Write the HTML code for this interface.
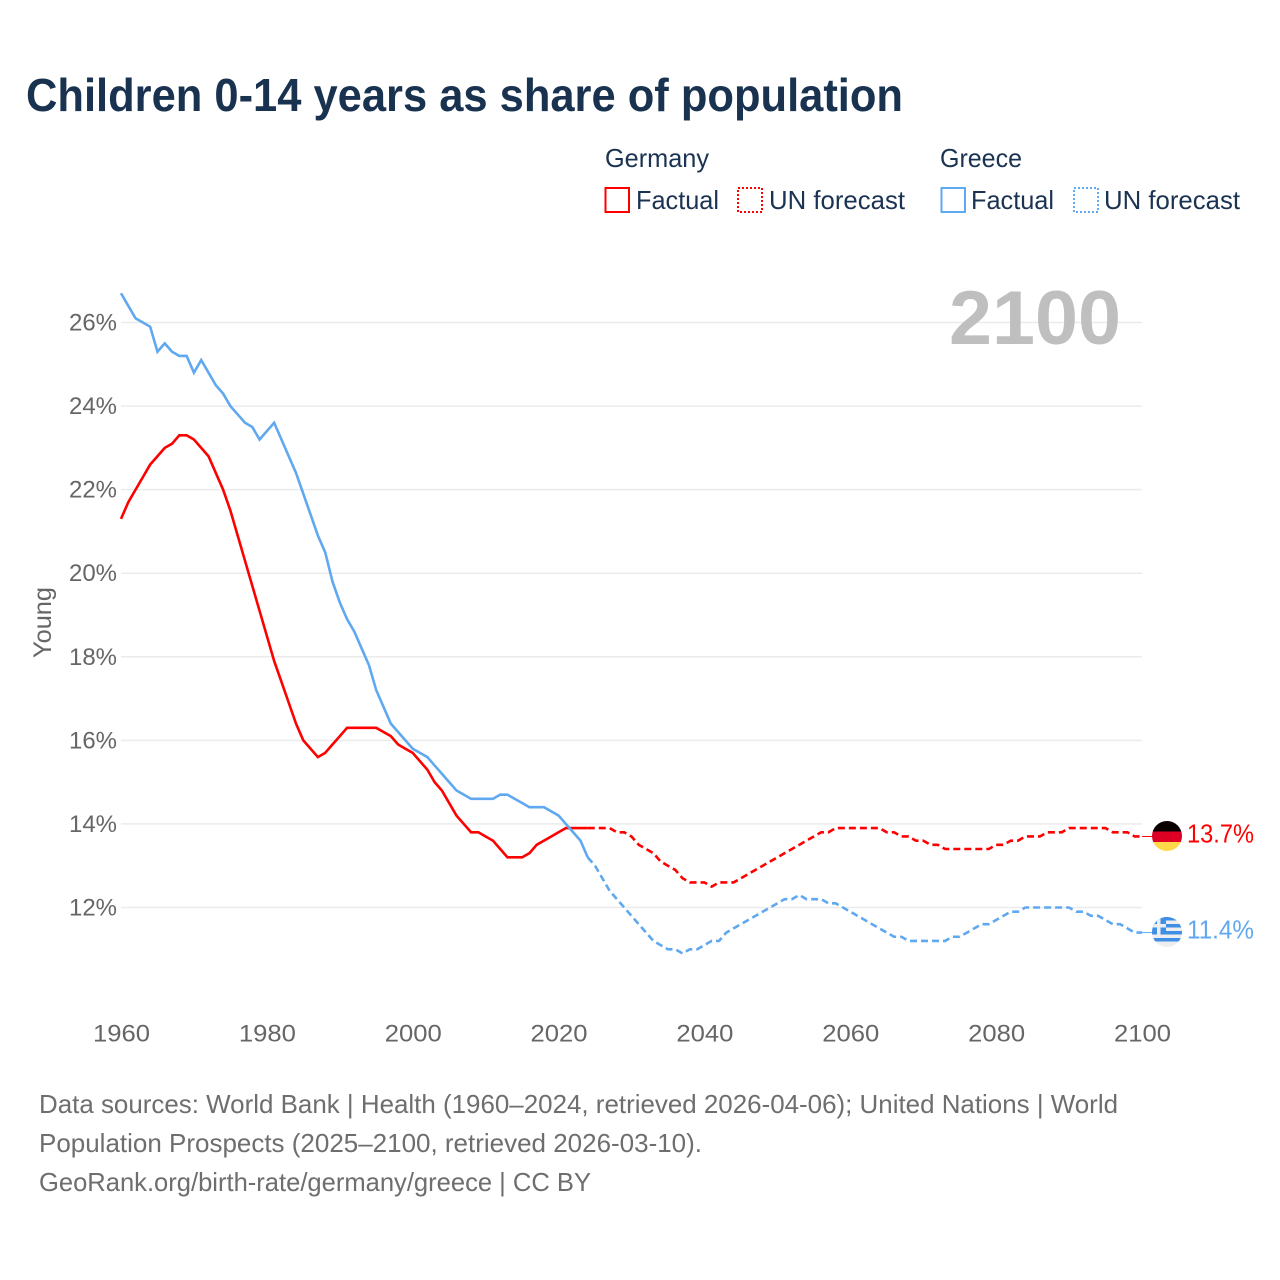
<!DOCTYPE html>
<html lang="en">
<head>
<meta charset="utf-8">
<title>Children 0-14 years as share of population</title>
<style>
html,body{margin:0;padding:0;background:#fff;width:1280px;height:1280px;overflow:hidden}
svg{display:block;font-family:"Liberation Sans",sans-serif}
</style>
</head>
<body>
<svg id="chart" width="1280" height="1280" viewBox="0 0 1280 1280" xmlns="http://www.w3.org/2000/svg">
  <defs>
    <clipPath id="flag-clip-de"><circle cx="1167" cy="836" r="15"/></clipPath>
    <clipPath id="flag-clip-gr"><circle cx="1167" cy="932" r="15"/></clipPath>
  </defs>
  <rect width="1280" height="1280" fill="#fff"/>
  <text x="26" y="111" font-size="46" font-weight="700" fill="#18324f" textLength="877" lengthAdjust="spacingAndGlyphs">Children 0-14 years as share of population</text>

  <g font-size="26" fill="#1b3352">
    <text x="605" y="167" textLength="104" lengthAdjust="spacingAndGlyphs">Germany</text>
    <text x="940" y="167" textLength="82" lengthAdjust="spacingAndGlyphs">Greece</text>
    <rect x="605.5" y="188" width="23.5" height="24" fill="none" stroke="#ff0000" stroke-width="2"/>
    <text x="636" y="209" textLength="83" lengthAdjust="spacingAndGlyphs">Factual</text>
    <rect x="738" y="188" width="24" height="24" fill="none" stroke="#ff0000" stroke-width="2" stroke-dasharray="2 2"/>
    <text x="769" y="209" textLength="136" lengthAdjust="spacingAndGlyphs">UN forecast</text>
    <rect x="941.5" y="188" width="23.5" height="24" fill="none" stroke="#60a8ef" stroke-width="2"/>
    <text x="971" y="209" textLength="83" lengthAdjust="spacingAndGlyphs">Factual</text>
    <rect x="1074" y="188" width="24" height="24" fill="none" stroke="#60a8ef" stroke-width="2" stroke-dasharray="2 2"/>
    <text x="1104" y="209" textLength="136" lengthAdjust="spacingAndGlyphs">UN forecast</text>
  </g>

  <g id="grid"></g>
  <g id="yticks" font-size="24" fill="#666"></g>
  <g id="xticks" font-size="24" fill="#666"></g>
  <text transform="translate(51,658) rotate(-90)" font-size="25" fill="#666" textLength="71" lengthAdjust="spacingAndGlyphs">Young</text>
  <text x="949" y="344" font-size="76" font-weight="700" fill="#bfbfbf" textLength="172" lengthAdjust="spacingAndGlyphs">2100</text>
  <g id="series"></g>

  <g clip-path="url(#flag-clip-de)">
    <rect x="1150" y="820" width="34" height="11.5" fill="#0b0000"/>
    <rect x="1150" y="831.5" width="34" height="10.5" fill="#dc0024"/>
    <rect x="1150" y="842" width="34" height="11" fill="#ffd84a"/>
  </g>
  <g clip-path="url(#flag-clip-gr)">
    <rect x="1150" y="916" width="34" height="32" fill="#eeeeee"/>
    <rect x="1150" y="917" width="34" height="3.5" fill="#3f8fe6"/>
    <rect x="1150" y="924" width="34" height="3.5" fill="#3f8fe6"/>
    <rect x="1150" y="931" width="34" height="3.5" fill="#3f8fe6"/>
    <rect x="1150" y="938" width="34" height="3.5" fill="#3f8fe6"/>
    <rect x="1150" y="917" width="16" height="17.5" fill="#3f8fe6"/>
    <rect x="1150" y="924" width="16" height="3.5" fill="#eeeeee"/>
    <rect x="1157" y="917" width="3.5" height="17.5" fill="#eeeeee"/>
  </g>
  <text x="1187" y="842.5" font-size="26" fill="#ff0000" textLength="67" lengthAdjust="spacingAndGlyphs">13.7%</text>
  <text x="1187" y="938.5" font-size="26" fill="#60a8ef" textLength="67" lengthAdjust="spacingAndGlyphs">11.4%</text>

  <g font-size="26" fill="#6e6e6e">
    <text x="39" y="1113" textLength="1079" lengthAdjust="spacingAndGlyphs">Data sources: World Bank | Health (1960–2024, retrieved 2026-04-06); United Nations | World</text>
    <text x="39" y="1152" textLength="663" lengthAdjust="spacingAndGlyphs">Population Prospects (2025–2100, retrieved 2026-03-10).</text>
    <text x="39" y="1191" textLength="552" lengthAdjust="spacingAndGlyphs">GeoRank.org/birth-rate/germany/greece | CC BY</text>
  </g>
</svg>
<script>
const yTickValues = [12, 14, 16, 18, 20, 22, 24, 26];
const xTickValues = [1960, 1980, 2000, 2020, 2040, 2060, 2080, 2100];
const factualStartYear = 1960;
const forecastStartYear = 2024;
const germanyFactual = [21.3,21.7,22.0,22.3,22.6,22.8,23.0,23.1,23.3,23.3,23.2,23.0,22.8,22.4,22.0,21.5,20.9,20.3,19.7,19.1,18.5,17.9,17.4,16.9,16.4,16.0,15.8,15.6,15.7,15.9,16.1,16.3,16.3,16.3,16.3,16.3,16.2,16.1,15.9,15.8,15.7,15.5,15.3,15.0,14.8,14.5,14.2,14.0,13.8,13.8,13.7,13.6,13.4,13.2,13.2,13.2,13.3,13.5,13.6,13.7,13.8,13.9,13.9,13.9,13.9];
const greeceFactual = [26.7,26.4,26.1,26.0,25.9,25.3,25.5,25.3,25.2,25.2,24.8,25.1,24.8,24.5,24.3,24.0,23.8,23.6,23.5,23.2,23.4,23.6,23.2,22.8,22.4,21.9,21.4,20.9,20.5,19.8,19.3,18.9,18.6,18.2,17.8,17.2,16.8,16.4,16.2,16.0,15.8,15.7,15.6,15.4,15.2,15.0,14.8,14.7,14.6,14.6,14.6,14.6,14.7,14.7,14.6,14.5,14.4,14.4,14.4,14.3,14.2,14.0,13.8,13.6,13.2];
const germanyForecast = [13.9,13.9,13.9,13.9,13.8,13.8,13.7,13.5,13.4,13.3,13.1,13.0,12.9,12.7,12.6,12.6,12.6,12.5,12.6,12.6,12.6,12.7,12.8,12.9,13.0,13.1,13.2,13.3,13.4,13.5,13.6,13.7,13.8,13.8,13.9,13.9,13.9,13.9,13.9,13.9,13.9,13.8,13.8,13.7,13.7,13.6,13.6,13.5,13.5,13.4,13.4,13.4,13.4,13.4,13.4,13.4,13.5,13.5,13.6,13.6,13.7,13.7,13.7,13.8,13.8,13.8,13.9,13.9,13.9,13.9,13.9,13.9,13.8,13.8,13.8,13.7,13.7];
const greeceForecast = [13.2,13.0,12.7,12.4,12.2,12.0,11.8,11.6,11.4,11.2,11.1,11.0,11.0,10.9,11.0,11.0,11.1,11.2,11.2,11.4,11.5,11.6,11.7,11.8,11.9,12.0,12.1,12.2,12.2,12.3,12.2,12.2,12.2,12.1,12.1,12.0,11.9,11.8,11.7,11.6,11.5,11.4,11.3,11.3,11.2,11.2,11.2,11.2,11.2,11.2,11.3,11.3,11.4,11.5,11.6,11.6,11.7,11.8,11.9,11.9,12.0,12.0,12.0,12.0,12.0,12.0,12.0,11.9,11.9,11.8,11.8,11.7,11.6,11.6,11.5,11.4,11.4];

const SVG_NS = 'http://www.w3.org/2000/svg';
const xScale = function (year) { return 121 + (year - 1960) * (1021 / 140); };
const yScale = function (value) { return 907.5 - (value - 12) * (585 / 14); };
const pathFrom = function (values, startYear) {
  return values.map(function (v, i) {
    return (i ? 'L' : 'M') + xScale(startYear + i).toFixed(2) + ' ' + yScale(v).toFixed(2);
  }).join(' ');
};

const gridLayer = document.getElementById('grid');
const yTickLayer = document.getElementById('yticks');
const xTickLayer = document.getElementById('xticks');
const seriesLayer = document.getElementById('series');

yTickValues.forEach(function (v) {
  const line = document.createElementNS(SVG_NS, 'line');
  
  
  line.setAttribute('x1', xScale(1960));
  line.setAttribute('x2', xScale(2100));
  line.setAttribute('y1', yScale(v));
  line.setAttribute('y2', yScale(v));
  line.setAttribute('stroke', '#ebebeb');
  line.setAttribute('stroke-width', '1.5');
  gridLayer.appendChild(line);

  const label = document.createElementNS(SVG_NS, 'text');
  
  
  label.setAttribute('x', 69);
  label.setAttribute('y', yScale(v) + 8);
  label.setAttribute('textLength', '48');
  label.setAttribute('lengthAdjust', 'spacingAndGlyphs');
  label.textContent = v + '%';
  yTickLayer.appendChild(label);
});

xTickValues.forEach(function (year) {
  const label = document.createElementNS(SVG_NS, 'text');
  
  
  label.setAttribute('x', xScale(year) - 28);
  label.setAttribute('y', 1041.5);
  label.setAttribute('textLength', '57');
  label.setAttribute('lengthAdjust', 'spacingAndGlyphs');
  label.textContent = String(year);
  xTickLayer.appendChild(label);
});

const connectorGermany = document.createElementNS(SVG_NS, 'line');


connectorGermany.setAttribute('x1', xScale(2100));
connectorGermany.setAttribute('x2', 1153);
connectorGermany.setAttribute('y1', yScale(germanyForecast[germanyForecast.length - 1]));
connectorGermany.setAttribute('y2', yScale(germanyForecast[germanyForecast.length - 1]));
connectorGermany.setAttribute('stroke', '#ff0000');
connectorGermany.setAttribute('stroke-width', '1');
seriesLayer.appendChild(connectorGermany);

const connectorGreece = document.createElementNS(SVG_NS, 'line');


connectorGreece.setAttribute('x1', xScale(2100));
connectorGreece.setAttribute('x2', 1153);
connectorGreece.setAttribute('y1', yScale(greeceForecast[greeceForecast.length - 1]));
connectorGreece.setAttribute('y2', yScale(greeceForecast[greeceForecast.length - 1]));
connectorGreece.setAttribute('stroke', '#60a8ef');
connectorGreece.setAttribute('stroke-width', '1');
seriesLayer.appendChild(connectorGreece);

const germanyForecastLine = document.createElementNS(SVG_NS, 'path');


germanyForecastLine.setAttribute('d', pathFrom(germanyForecast, forecastStartYear));
germanyForecastLine.setAttribute('fill', 'none');
germanyForecastLine.setAttribute('stroke', '#ff0000');
germanyForecastLine.setAttribute('stroke-width', '2.6');
germanyForecastLine.setAttribute('stroke-dasharray', '7 4');
seriesLayer.appendChild(germanyForecastLine);

const germanyFactualLine = document.createElementNS(SVG_NS, 'path');


germanyFactualLine.setAttribute('d', pathFrom(germanyFactual, factualStartYear));
germanyFactualLine.setAttribute('fill', 'none');
germanyFactualLine.setAttribute('stroke', '#ff0000');
germanyFactualLine.setAttribute('stroke-width', '2.6');
seriesLayer.appendChild(germanyFactualLine);

const greeceForecastLine = document.createElementNS(SVG_NS, 'path');


greeceForecastLine.setAttribute('d', pathFrom(greeceForecast, forecastStartYear));
greeceForecastLine.setAttribute('fill', 'none');
greeceForecastLine.setAttribute('stroke', '#60a8ef');
greeceForecastLine.setAttribute('stroke-width', '2.6');
greeceForecastLine.setAttribute('stroke-dasharray', '7 4');
seriesLayer.appendChild(greeceForecastLine);

const greeceFactualLine = document.createElementNS(SVG_NS, 'path');


greeceFactualLine.setAttribute('d', pathFrom(greeceFactual, factualStartYear));
greeceFactualLine.setAttribute('fill', 'none');
greeceFactualLine.setAttribute('stroke', '#60a8ef');
greeceFactualLine.setAttribute('stroke-width', '2.6');
seriesLayer.appendChild(greeceFactualLine);
</script>
</body>
</html>
